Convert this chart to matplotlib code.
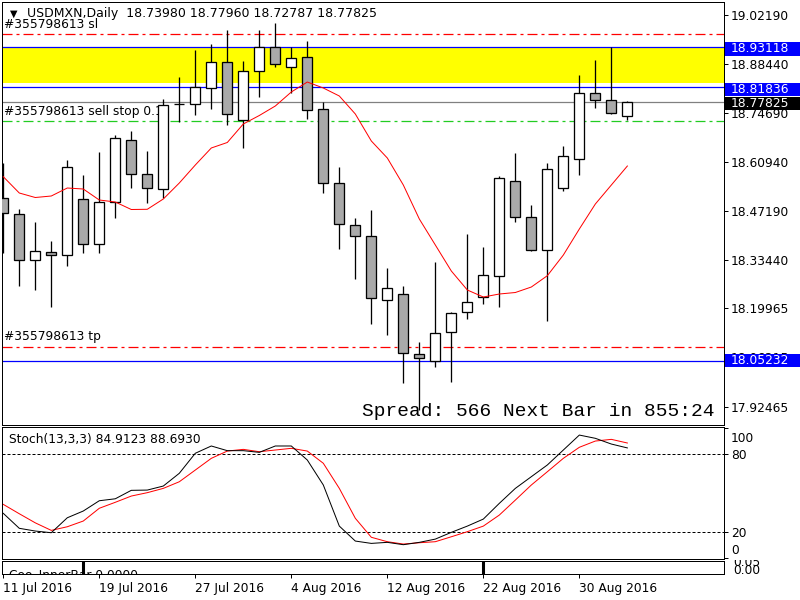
import matplotlib
matplotlib.use("Agg")
import matplotlib.pyplot as plt
from matplotlib.patches import Rectangle
from matplotlib.transforms import blended_transform_factory, Bbox

# ---------------- data ----------------
title_text = "USDMXN,Daily  18.73980 18.77960 18.72787 18.77825"

opens = [18.5088, 18.4631, 18.3343, 18.3567, 18.3483, 18.5052, 18.3791, 18.4968, 18.6704, 18.5752,
         18.5332, 18.7729, 18.7713, 18.8161, 18.8889, 18.7264, 18.8637, 18.9309, 18.8749, 18.9029,
         18.7573, 18.5500, 18.4323, 18.4015, 18.2223, 18.2399, 18.0710, 18.0514, 18.1326, 18.1886,
         18.2307, 18.2895, 18.5556, 18.4547, 18.3623, 18.5360, 18.6172, 18.8021, 18.7825, 18.73980]
highs = [18.6068, 18.4780, 18.4416, 18.3884, 18.6152, 18.5732, 18.6376, 18.6853, 18.6965, 18.6404,
         18.7869, 18.8486, 18.9233, 18.9402, 18.9794, 18.8917, 18.9794, 18.9981, 18.9309, 18.9477,
         18.7785, 18.5948, 18.4519, 18.4752, 18.3127, 18.2632, 18.1046, 18.3304, 18.1886, 18.4080,
         18.3716, 18.5696, 18.6348, 18.4884, 18.6068, 18.6545, 18.8525, 18.8953, 18.9309, 18.77960]
lows = [18.3547, 18.2632, 18.2519, 18.2043, 18.3192, 18.3539, 18.3539, 18.4536, 18.5360, 18.4956,
        18.5080, 18.7208, 18.7404, 18.7573, 18.7141, 18.6497, 18.7925, 18.8749, 18.8021, 18.7292,
        18.5220, 18.3651, 18.2811, 18.1550, 18.1251, 17.9898, 17.9150, 18.0346, 17.9943, 18.1690,
        18.2111, 18.2027, 18.4407, 18.3595, 18.1643, 18.5276, 18.5724, 18.7601, 18.7432, 18.72787]
closes = [18.4668, 18.3343, 18.3595, 18.3483, 18.5948, 18.3791, 18.4968, 18.6760, 18.5752, 18.5360,
          18.7685, 18.7729, 18.8206, 18.8889, 18.7432, 18.8637, 18.9309, 18.8833, 18.9001, 18.7544,
          18.5500, 18.4351, 18.4015, 18.2279, 18.2559, 18.0738, 18.0598, 18.1298, 18.1858, 18.2167,
          18.2923, 18.5640, 18.4547, 18.3623, 18.5892, 18.6256, 18.8021, 18.7825, 18.7460, 18.77825]

ma_values = [18.5685, 18.5228, 18.5102, 18.5144, 18.5368, 18.5340, 18.5032, 18.4976, 18.4766, 18.4772,
             18.5060, 18.5508, 18.6012, 18.6489, 18.6643, 18.7161, 18.7399, 18.7665, 18.8057, 18.8337,
             18.8169, 18.7945, 18.7441, 18.6685, 18.6208, 18.5452, 18.4500, 18.3772, 18.3043, 18.2511,
             18.2315, 18.2399, 18.2441, 18.2595, 18.2912, 18.3491, 18.4220, 18.4920, 18.5452, 18.5984]

stoch_k = [34.6, 23.1, 21.0, 19.7, 31.2, 36.4, 44.3, 45.8, 52.3, 52.5,
           55.6, 65.4, 80.8, 86.4, 82.8, 82.8, 81.5, 86.4, 86.4, 75.6,
           56.4, 24.8, 13.3, 11.5, 12.3, 10.5, 12.3, 14.8, 20.0, 24.8,
           30.2, 42.3, 53.8, 62.8, 71.8, 83.3, 94.8, 92.3, 87.9, 84.9123]
stoch_d = [41.5, 34.3, 27.3, 21.5, 24.3, 28.7, 38.5, 43.1, 47.9, 50.5,
           53.8, 58.9, 67.9, 76.9, 82.5, 83.8, 82.0, 83.3, 84.6, 82.5,
           73.1, 53.8, 30.8, 16.2, 12.8, 11.0, 12.0, 12.8, 16.6, 20.5,
           24.8, 33.3, 44.8, 56.4, 66.6, 76.9, 85.4, 90.2, 91.5, 88.693]

inner_bar = [0, 0, 0, 0, 0, 1, 0, 0, 0, 0, 0, 0, 0, 0, 0, 0, 0, 0, 0, 0,
             0, 0, 0, 0, 0, 0, 0, 0, 0, 0, 1, 0, 0, 0, 0, 0, 0, 0, 0, 0]

date_tick_idx = [0, 6, 12, 18, 24, 30, 36]
date_labels = ["11 Jul 2016", "19 Jul 2016", "27 Jul 2016", "4 Aug 2016",
               "12 Aug 2016", "22 Aug 2016", "30 Aug 2016"]

price_ticks = [19.02190, 18.88440, 18.74690, 18.60940, 18.47190, 18.33440,
               18.19965, 18.06215, 17.92465]

sl_level = 18.9682
sell_stop_level = 18.7236
tp_level = 18.0923
blue_levels = [18.93118, 18.81836, 18.05232]
bid_level = 18.77825
zone_low, zone_high = 18.8309, 18.9322

price_boxes = [(18.93118, '#0000ff', -0.005), (18.81836, '#0000ff', -0.005),
               (18.77825, 'black', -0.005), (18.05232, '#0000ff', 0.001)]

order_labels = [("#355798613 sl", 18.9960), ("#355798613 sell stop 0.1", 18.7520),
                ("#355798613 tp", 18.1210)]
spread_text = "Spread: 566 Next Bar in 855:24"
stoch_text = "Stoch(13,3,3) 84.9123 88.6930"
inner_text = "Coo_InnerBar 0.0000"

# ---------------- figure ----------------
plt.rcParams['font.family'] = ['DejaVu Sans']
plt.rcParams['font.size'] = 8.8
W, H = 800, 600
fig = plt.figure(figsize=(8, 6), dpi=100)
fig.patch.set_facecolor('white')

def px_axes(x0, y0, x1, y1):
    return fig.add_axes([x0 / W, 1 - y1 / H, (x1 - x0) / W, (y1 - y0) / H])

ax = px_axes(2, 2, 724, 425)
axs = px_axes(2, 427, 724, 559)
axi = px_axes(2, 561, 724, 574)

xlim = (-0.08, 45.04)
lw = 0.72
for a in (ax, axs, axi):
    a.set_xlim(*xlim)
    for sp in a.spines.values():
        sp.set_linewidth(lw)
        sp.set_color('black')
    a.set_facecolor('white')

n = len(opens)
xs = list(range(n))

# ---- main panel ----
ax.set_ylim(17.8730, 19.0578)
ax.axhspan(zone_low, zone_high, color='#ffff00', zorder=0.5, lw=0)
llw = 0.9
dashdot = (0, (8, 3.2, 2.4, 3.2))
ax.axhline(sl_level, color='#ff0000', lw=llw, ls=dashdot, zorder=1)
ax.axhline(tp_level, color='#ff0000', lw=llw, ls=dashdot, zorder=1)
ax.axhline(sell_stop_level, color='#22cc22', lw=llw, ls=dashdot, zorder=1)
for lv in blue_levels:
    ax.axhline(lv, color='#0000ff', lw=llw, zorder=1)
ax.axhline(bid_level, color='#808080', lw=llw, zorder=1)

bw = 0.625
for i in xs:
    o, h, l, c = opens[i], highs[i], lows[i], closes[i]
    ax.vlines(i, l, h, color='black', lw=lw * 1.3, zorder=3)
    lo, hi = min(o, c), max(o, c)
    if abs(c - o) < 0.0008:
        ax.hlines(o, i - bw / 2, i + bw / 2, color='black', lw=lw * 1.3, zorder=4)
    else:
        fc = 'white' if c >= o else '#a9a9a9'
        ax.add_patch(Rectangle((i - bw / 2, lo), bw, hi - lo, facecolor=fc,
                               edgecolor='black', lw=lw * 1.3, zorder=4))

ax.plot(xs, ma_values, color='red', lw=lw, zorder=5)

ax.yaxis.tick_right()
ax.set_yticks(price_ticks)
ax.set_yticklabels([f"{p:.5f}" for p in price_ticks])
ax.tick_params(axis='y', direction='out', length=3, width=lw, pad=2, labelsize=8.8)
ax.set_xticks([])

# price boxes on the right
btr = blended_transform_factory(fig.transFigure, ax.transData)
box_h = 13.5 / 357.0
for lv, col, off in price_boxes:
    r = Rectangle((725 / W, lv - box_h / 2 + off), 75 / W, box_h, transform=btr,
                  facecolor=col, edgecolor='none', zorder=10, clip_on=False)
    ax.add_artist(r)
    ax.text(731 / W, lv + off, f"{lv:.5f}", transform=btr, color='white', va='center',
            ha='left', fontsize=8.8, zorder=11, clip_on=False)

# texts in main panel
ax.text(8 / 722, 1 - 12 / 423, "\u25bc", transform=ax.transAxes, fontsize=7, va='center', ha='left')
ax.text(25 / 722, 1 - 12 / 423, title_text, transform=ax.transAxes, fontsize=9, va='center', ha='left')
for txt, yv in order_labels:
    ax.text(10 / 722, yv, txt, fontsize=8.8, va='center', ha='left', zorder=2)
ax.text(713 / 722, 1 - 410 / 423, spread_text, transform=ax.transAxes, fontsize=14.0,
        family='Liberation Mono', va='center', ha='right', zorder=6)

# ---- stochastic panel ----
axs.set_ylim(-0.5, 101)
axs.axhline(80, color='black', lw=lw, ls=(0, (3, 2)))
axs.axhline(20, color='black', lw=lw, ls=(0, (3, 2)))
axs.plot(xs, stoch_d, color='red', lw=lw)
axs.plot(xs, stoch_k, color='black', lw=lw)
axs.yaxis.tick_right()
axs.set_yticks([100, 80, 20, 0])
axs.set_yticklabels(['', '80', '20', ''])
axs.tick_params(axis='y', direction='out', length=3, width=lw, pad=2, labelsize=8.8)
axs.set_xticks([])
sbt = blended_transform_factory(fig.transFigure, axs.transData)
axs.text(731 / W, 92.5, "100", transform=sbt, fontsize=8.8, va='center', ha='left', clip_on=False)
axs.text(731 / W, 6.4, "0", transform=sbt, fontsize=8.8, va='center', ha='left', clip_on=False)
axs.text(7 / 722, 1 - 12 / 132, stoch_text, transform=axs.transAxes, fontsize=8.8, va='center', ha='left')

# ---- inner bar panel ----
axi.set_ylim(0, 1)
axi.vlines(xs, 0, inner_bar, color='black', lw=2.2)
axi.text(7 / 722, -0.05, inner_text, transform=axi.transAxes, fontsize=8.8, va='center',
         ha='left', clip_on=True)
axi.set_yticks([])
axi.set_xticks(date_tick_idx)
axi.set_xticklabels(date_labels, ha='left')
axi.tick_params(axis='x', direction='out', length=3, width=lw, pad=2.5, labelsize=8.8)
clipbox = Bbox([[724, H - 575], [800, H - 560]])
for txt, yc in [("0.05", 562), ("0.00", 571)]:
    t = fig.text(733 / W, 1 - yc / H, txt, fontsize=8.8, va='center', ha='left')
    t.set_clip_box(clipbox)
    t.set_clip_on(True)

fig.savefig("out.png", dpi=100)
